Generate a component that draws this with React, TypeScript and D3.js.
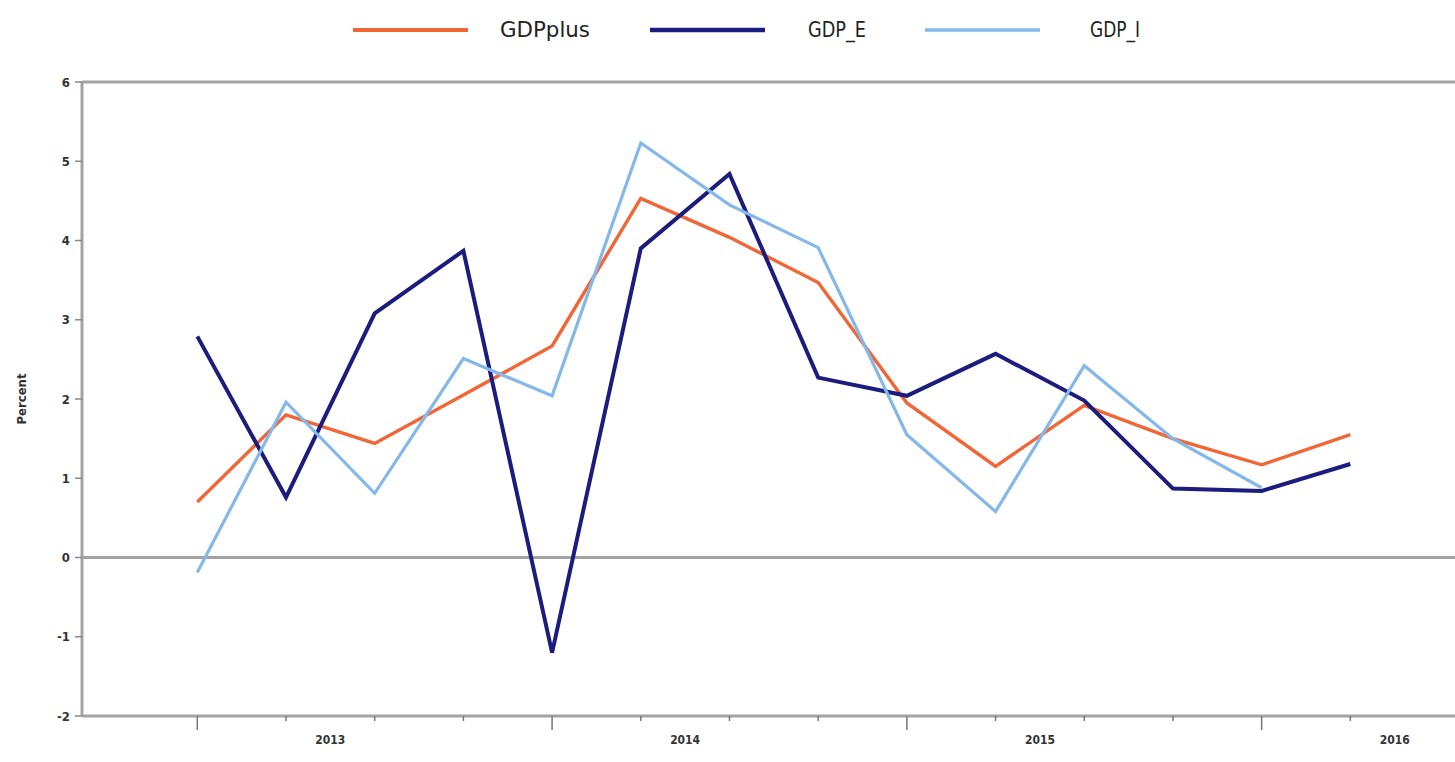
import React from "react";
import * as d3 from "d3";

const quarters = ["2013Q1","2013Q2","2013Q3","2013Q4","2014Q1","2014Q2","2014Q3","2014Q4","2015Q1","2015Q2","2015Q3","2015Q4","2016Q1","2016Q2"];
const gdpPlus = [0.70, 1.80, 1.44, 2.05, 2.67, 4.53, 4.04, 3.47, 1.95, 1.15, 1.92, 1.50, 1.17, 1.55];
const gdpE = [2.79, 0.76, 3.08, 3.87, -1.20, 3.90, 4.84, 2.27, 2.04, 2.57, 1.98, 0.87, 0.84, 1.18];
const gdpI = [-0.19, 1.96, 0.81, 2.51, 2.04, 5.23, 4.45, 3.91, 1.55, 0.58, 2.42, 1.50, 0.88];
const years = ["2013", "2014", "2015", "2016"];
const yTicks = [-2, -1, 0, 1, 2, 3, 4, 5, 6];

const series = [
  { name: "GDPplus", values: gdpPlus, color: "#f26535", width: 3.4 },
  { name: "GDP_E", values: gdpE, color: "#1c1c7e", width: 4 },
  { name: "GDP_I", values: gdpI, color: "#84b8ea", width: 3.2 },
];

export default function App() {
  const W = 1455, H = 762;
  const left = 82, top = 82, bottom = 716, right = 1455;
  const x = d3.scaleLinear().domain([-1.3, 14.18]).range([left, right]);
  const y = d3.scaleLinear().domain([-2, 6]).range([bottom, top]);
  const line = d3.line<number>().x((_, i) => x(i)).y((v) => y(v));
  const axisColor = "#a3a3a3";
  const font = "'DejaVu Sans Condensed', 'DejaVu Sans', sans-serif";
  const legendItems = [
    { s: series[0], x1: 353, x2: 468, tx: 500, tw: 90 },
    { s: series[1], x1: 650, x2: 765, tx: 808, tw: 58 },
    { s: series[2], x1: 925, x2: 1040, tx: 1090, tw: 50 },
  ];
  return (
    <svg width={W} height={H} style={{ position: "absolute", left: 0, top: 0, background: "#fff" }} fontFamily={font}>
      <line x1={left} x2={right} y1={top} y2={top} stroke={axisColor} strokeWidth={3} />
      <line x1={left} x2={left} y1={top} y2={bottom} stroke={axisColor} strokeWidth={3} />
      <line x1={left} x2={right} y1={bottom} y2={bottom} stroke={axisColor} strokeWidth={3} />
      <line x1={left} x2={right} y1={y(0)} y2={y(0)} stroke={axisColor} strokeWidth={3} />
      {yTicks.map((t) => (
        <g key={t}>
          <line x1={left - 7} x2={left} y1={y(t)} y2={y(t)} stroke="#888" strokeWidth={1.5} />
          <text x={left - 12} y={y(t)} dy="0.35em" textAnchor="end" fontSize={13} fill="#333" fontWeight="bold">{t}</text>
        </g>
      ))}
      <text transform={`translate(26,${y(2)}) rotate(-90)`} textAnchor="middle" fontSize={13} fill="#333" fontWeight="bold">Percent</text>
      {quarters.map((q, i) => (
        <line key={q} x1={x(i)} x2={x(i)} y1={bottom} y2={bottom + (i % 4 === 0 ? 14 : 5)} stroke="#777" strokeWidth={1.5} />
      ))}
      {years.map((yr, k) => (
        <text key={yr} x={x(k * 4 + 1.5)} y={bottom + 23} dy="0.35em" textAnchor="middle" fontSize={13} fill="#333" fontWeight="bold" textLength={30} lengthAdjust="spacingAndGlyphs">{yr}</text>
      ))}
      {series.map((s) => (
        <path key={s.name} d={line(s.values) || ""} fill="none" stroke={s.color} strokeWidth={s.width} strokeLinejoin="miter" />
      ))}
      {legendItems.map((l) => (
        <g key={l.s.name}>
          <line x1={l.x1} x2={l.x2} y1={30} y2={30} stroke={l.s.color} strokeWidth={l.s.width + 0.5} />
          <text x={l.tx} y={30} dy="0.35em" fontSize={21} fill="#222" textLength={l.tw} lengthAdjust="spacingAndGlyphs">{l.s.name}</text>
        </g>
      ))}
    </svg>
  );
}
